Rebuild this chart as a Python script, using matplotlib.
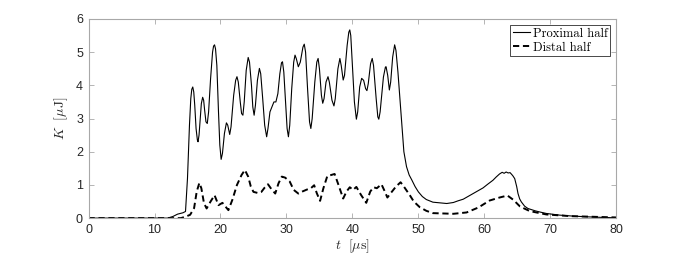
import matplotlib
matplotlib.use("Agg")
import matplotlib.pyplot as plt

t_prox = [0, 12.0, 12.8, 13.5, 14.3, 14.7,
          15.0, 15.3, 15.5, 15.65, 15.8, 15.95, 16.1, 16.3, 16.5, 16.6, 16.75, 16.9, 17.1,
          17.3, 17.45, 17.6, 17.8, 18.0, 18.2, 18.5, 18.8, 18.95, 19.1, 19.25, 19.45, 19.7,
          19.9, 20.1, 20.3, 20.6, 20.9, 21.1, 21.4, 21.6, 22.0, 22.3, 22.5, 22.7, 23.0,
          23.2, 23.4, 23.6, 23.9, 24.2, 24.4, 24.7, 24.9, 25.1, 25.3, 25.6, 25.9, 26.1,
          26.4, 26.7, 27.0, 27.2, 27.5, 27.8, 28.1, 28.4, 28.7, 29.0, 29.25, 29.4, 29.6,
          29.9, 30.1, 30.3, 30.5, 30.8, 31.1, 31.3, 31.5, 31.8, 32.1, 32.5, 32.7, 32.9,
          33.2, 33.5, 33.7, 33.9, 34.3, 34.6, 34.8, 35.0, 35.3, 35.5, 35.7, 36.0, 36.3,
          36.5, 36.9, 37.2, 37.4, 37.8, 38.1, 38.3, 38.6, 38.8, 39.2, 39.45, 39.6, 39.75,
          40.0, 40.3, 40.6, 40.8, 41.1, 41.4, 41.7, 42.0, 42.2, 42.4, 42.75, 43.0, 43.2,
          43.6, 43.85, 44.0, 44.2, 44.7, 45.0, 45.1, 45.35, 45.6, 45.8, 46.1, 46.4, 46.6,
          46.9, 47.2, 47.5, 47.8, 48.2, 48.6, 49.0, 49.5, 50.0, 50.6, 51.2, 52.2, 53.3,
          54.3, 55.3, 56.0, 56.8, 57.5, 58.3, 59.0, 59.8, 60.5, 61.3, 61.8, 62.3, 62.7,
          63.0, 63.3, 63.6, 63.9, 64.3, 64.6, 64.9, 65.1, 65.35, 65.6, 66.1, 66.6, 67.7,
          68.5, 69.4, 71.4, 73.5, 75.5, 78.0, 80]
k_prox = [0, 0, 0.05, 0.12, 0.16, 0.2,
          1.2, 2.8, 3.6, 3.88, 3.95, 3.8, 3.4, 2.7, 2.35, 2.3, 2.5, 2.9, 3.45,
          3.64, 3.55, 3.25, 2.9, 2.85, 3.2, 4.2, 5.0, 5.18, 5.22, 5.1, 4.6, 3.2,
          2.2, 1.77, 1.95, 2.55, 2.87, 2.8, 2.52, 2.75, 3.7, 4.15, 4.26, 4.1, 3.5,
          3.15, 3.1, 3.5, 4.45, 4.84, 4.7, 4.0, 3.35, 3.1, 3.4, 4.15, 4.51, 4.35,
          3.6, 2.8, 2.45, 2.7, 3.2, 3.35, 3.5, 3.5, 3.75, 4.35, 4.68, 4.71, 4.4,
          3.4, 2.7, 2.45, 2.8, 3.9, 4.7, 4.91, 4.8, 4.56, 4.7, 5.15, 5.24, 5.0,
          3.9, 2.9, 2.70, 3.0, 4.1, 4.7, 4.81, 4.5, 3.7, 3.46, 3.6, 4.1, 4.26,
          4.1, 3.55, 3.38, 3.6, 4.5, 4.81, 4.6, 4.16, 4.3, 5.2, 5.6, 5.67, 5.5,
          4.6, 3.5, 2.98, 3.2, 3.95, 4.21, 4.15, 3.9, 3.84, 4.05, 4.65, 4.81, 4.6,
          3.6, 3.05, 2.98, 3.2, 4.25, 4.55, 4.56, 4.3, 3.86, 4.1, 4.85, 5.22, 5.05,
          4.4, 3.6, 2.8, 2.0, 1.55, 1.3, 1.15, 0.95, 0.79, 0.65, 0.56, 0.48, 0.46,
          0.44, 0.47, 0.52, 0.57, 0.65, 0.74, 0.82, 0.91, 1.02, 1.14, 1.24, 1.33, 1.38,
          1.35, 1.39, 1.36, 1.37, 1.28, 1.19, 0.95, 0.74, 0.58, 0.49, 0.36, 0.29, 0.22,
          0.18, 0.14, 0.09, 0.06, 0.04, 0.02, 0.01]

t_dist = [0, 14.0, 14.8, 15.4, 16.0, 16.4, 16.8, 17.1, 17.5, 17.9, 18.5, 19.1, 19.7, 20.3,
          21.2, 21.8, 22.5, 23.2, 23.7, 24.2, 24.6, 25.0, 25.6, 26.2, 26.7, 27.2, 27.7,
          28.3, 28.8, 29.3, 29.8, 30.5, 31.1, 31.8, 32.4, 33.1, 33.7, 34.2, 34.6, 35.1,
          35.6, 36.2, 36.8, 37.3, 37.8, 38.6, 39.1, 39.6, 40.1, 40.6, 41.3, 42.1, 42.7,
          43.2, 43.7, 44.4, 44.8, 45.3, 45.8, 46.6, 47.3, 47.8, 48.7, 49.3, 50.2, 51.2,
          52.2, 55.3, 57.3, 59.1, 60.8, 62.3, 63.5, 64.4, 65.4, 66.9, 69.4, 73.0, 80]
k_dist = [0, 0, 0.05, 0.1, 0.3, 0.8, 1.06, 0.9, 0.45, 0.29, 0.5, 0.69, 0.39, 0.46,
          0.24, 0.55, 1.0, 1.3, 1.45, 1.25, 0.95, 0.79, 0.76, 0.79, 0.92, 1.02, 0.88,
          0.74, 1.05, 1.25, 1.22, 1.1, 0.85, 0.74, 0.8, 0.86, 0.9, 0.99, 0.75, 0.52,
          0.9, 1.27, 1.3, 1.33, 1.05, 0.59, 0.8, 0.93, 0.85, 0.94, 0.7, 0.46, 0.8,
          0.93, 0.9, 1.02, 0.85, 0.62, 0.75, 0.95, 1.08, 0.95, 0.69, 0.5, 0.33, 0.22,
          0.15, 0.13, 0.17, 0.32, 0.53, 0.62, 0.68, 0.55, 0.35, 0.21, 0.11, 0.06, 0.02]

x_ticks = [0, 10, 20, 30, 40, 50, 60, 70, 80]
y_ticks = [0, 1, 2, 3, 4, 5, 6]
labels = ["Proximal half", "Distal half"]

plt.rcParams['mathtext.fontset'] = 'cm'
fig = plt.figure(figsize=(6.81, 2.56), dpi=100)
ax = fig.add_axes([0.130, 0.148, 0.775, 0.778])

ax.plot(t_prox, k_prox, color='black', lw=0.8, label=labels[0])
ax.plot(t_dist, k_dist, color='black', lw=1.4, dashes=(3.2, 1.9), label=labels[1])

ax.set_xlim(0, 80)
ax.set_ylim(0, 6)
ax.set_xticks(x_ticks)
ax.set_yticks(y_ticks)
ax.tick_params(direction='in', top=True, right=True, length=3.5, width=0.6,
               colors='#262626', labelsize=9, pad=4)
for lab in ax.get_xticklabels() + ax.get_yticklabels():
    lab.set_fontfamily('Liberation Sans')
for s in ax.spines.values():
    s.set_color('#a8a8a8')
    s.set_linewidth(0.8)
ax.tick_params(color='#a8a8a8')

ax.set_xlabel(r'$t\ \ [\mu\mathrm{s}]$', fontsize=10, color='#262626', labelpad=1)
ax.set_ylabel(r'$K\ \ [\mu\mathrm{J}]$', fontsize=10, color='#262626', labelpad=4)

leg = ax.legend(loc='upper right', fancybox=False, framealpha=1, edgecolor='black',
                prop={'family': 'cmr10', 'size': 9}, handlelength=1.4, handletextpad=0.2,
                borderpad=0.2, labelspacing=0.15, borderaxespad=0.5)
leg.get_frame().set_linewidth(0.5)

fig.savefig('out.png', dpi=100)
